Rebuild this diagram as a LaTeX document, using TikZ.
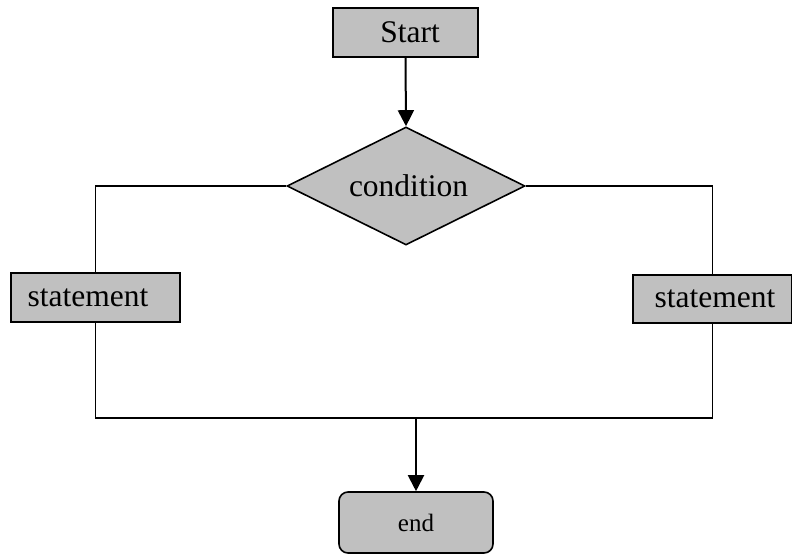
\documentclass[tikz,border=0pt]{standalone}
\usepackage{fontspec}
\setmainfont{Liberation Serif}
\usetikzlibrary{shapes.geometric,arrows.meta}
\definecolor{boxgray}{HTML}{C0C0C0}
\tikzset{
  x=1pt, y=-1pt,
  box/.style={draw, line width=1.6pt, fill=boxgray, inner sep=0pt, font=\fontsize{31.5}{36}\selectfont},
  decide/.style={draw, line width=1.6pt, fill=boxgray, diamond, aspect=2.02, inner sep=0pt, minimum width=238pt, minimum height=118pt, font=\fontsize{31.5}{36}\selectfont},
  terminal/.style={draw, line width=1.6pt, fill=boxgray, rounded corners=9pt, inner sep=0pt, font=\fontsize{25}{30}\selectfont},
  link/.style={line width=1.6pt},
  arrowlink/.style={line width=2pt, -{Triangle[length=16pt,width=16pt]}}
}
\begin{document}
\begin{tikzpicture}
\useasboundingbox (0,0) rectangle (792,554);
\node[box, minimum width=145pt, minimum height=49pt] (start) at (405.5,32.5) {\hspace*{9pt}Start};
\node[decide] (cond) at (406,186) {\hspace*{5pt}condition};
\node[box, minimum width=169pt, minimum height=49pt] (stmtL) at (95.5,297.5) {statement\hspace*{15pt}};
\node[box, minimum width=159pt, minimum height=48pt] (stmtR) at (712.5,299) {\hspace*{5pt}statement};
\node[terminal, minimum width=154pt, minimum height=61pt] (end) at (416,522.5) {end};
\coordinate (join) at (416,418);
\draw[arrowlink] (start.south) -- (cond.north);
\draw[link] (cond.west) -| (stmtL.north);
\draw[link] (cond.east) -| (stmtR.north);
\draw[link] (stmtL.south) |- (join);
\draw[link] (stmtR.south) |- (join);
\draw[arrowlink] (join) -- (end.north);
\end{tikzpicture}
\end{document}
